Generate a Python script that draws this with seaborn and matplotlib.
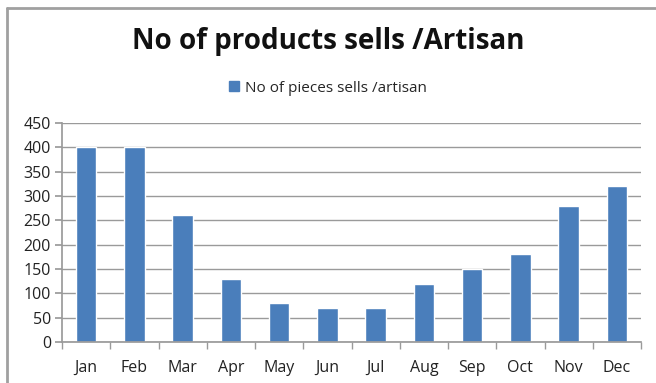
import matplotlib
matplotlib.use("Agg")
import matplotlib.pyplot as plt
import seaborn as sns
import pandas as pd
import numpy as np
from matplotlib.lines import Line2D
from matplotlib.patches import Patch

months = ["Jan", "Feb", "Mar", "Apr", "May", "Jun", "Jul", "Aug", "Sep", "Oct", "Nov", "Dec"]
pieces = [400, 400, 260, 130, 80, 70, 70, 120, 150, 180, 280, 320]
series_name = "No of pieces sells /artisan"
title = "No of products sells /Artisan"
yticks = [0, 50, 100, 150, 200, 250, 300, 350, 400, 450]

sns.set_theme(style="white")
plt.rcParams["font.family"] = ["Open Sans", "DejaVu Sans"]

df = pd.DataFrame({"Month": months, "Pieces": pieces})

fig = plt.figure(figsize=(6.56, 3.83), dpi=100)
ax = fig.add_axes([62/656, 1-342/383, (641-62)/656, (342-123)/383])

blue = "#4a7ebb"
sns.barplot(data=df, x="Month", y="Pieces", color=blue, width=0.42, ax=ax, saturation=1)

ax.set_ylim(0, 450)
ax.set_xlim(-0.5, 11.5)
ax.set_yticks(yticks)
ax.set_yticklabels([str(v) for v in yticks], fontsize=11.5, color="#222222")
ax.set_xlabel("")
ax.set_ylabel("")
for lbl in ax.get_xticklabels():
    lbl.set_fontsize(11.5)
    lbl.set_color("#222222")

ax.yaxis.grid(True, color="#9a9a9a", linewidth=1)
ax.set_axisbelow(True)
for s in ["top", "right"]:
    ax.spines[s].set_visible(False)
ax.spines["left"].set_color("#9a9a9a")
ax.spines["bottom"].set_color("#9a9a9a")
ax.tick_params(axis="y", which="major", left=True, length=5, color="#9a9a9a", pad=3)
ax.tick_params(axis="x", which="major", bottom=False, pad=7)
ax.set_xticks(np.arange(-0.5, 12, 1), minor=True)
ax.tick_params(axis="x", which="minor", bottom=True, length=5, color="#9a9a9a")

fig.text(0.5, 1-42/383, title, ha="center", va="center", fontsize=20, fontweight="bold", color="#111111")
handle = Patch(facecolor=blue, edgecolor=blue)
fig.legend([handle], [series_name], loc="center", bbox_to_anchor=(0.5, 1-88/383),
           frameon=False, fontsize=11, handlelength=0.6, handleheight=0.6, handletextpad=0.4)

fig.add_artist(Line2D([6.5/656, 6.5/656], [0, 1-7.5/383], transform=fig.transFigure, color="#a0a0a0", linewidth=2))
fig.add_artist(Line2D([6.5/656, 1], [1-7.5/383, 1-7.5/383], transform=fig.transFigure, color="#a0a0a0", linewidth=2))

fig.savefig("out.png", dpi=100)
